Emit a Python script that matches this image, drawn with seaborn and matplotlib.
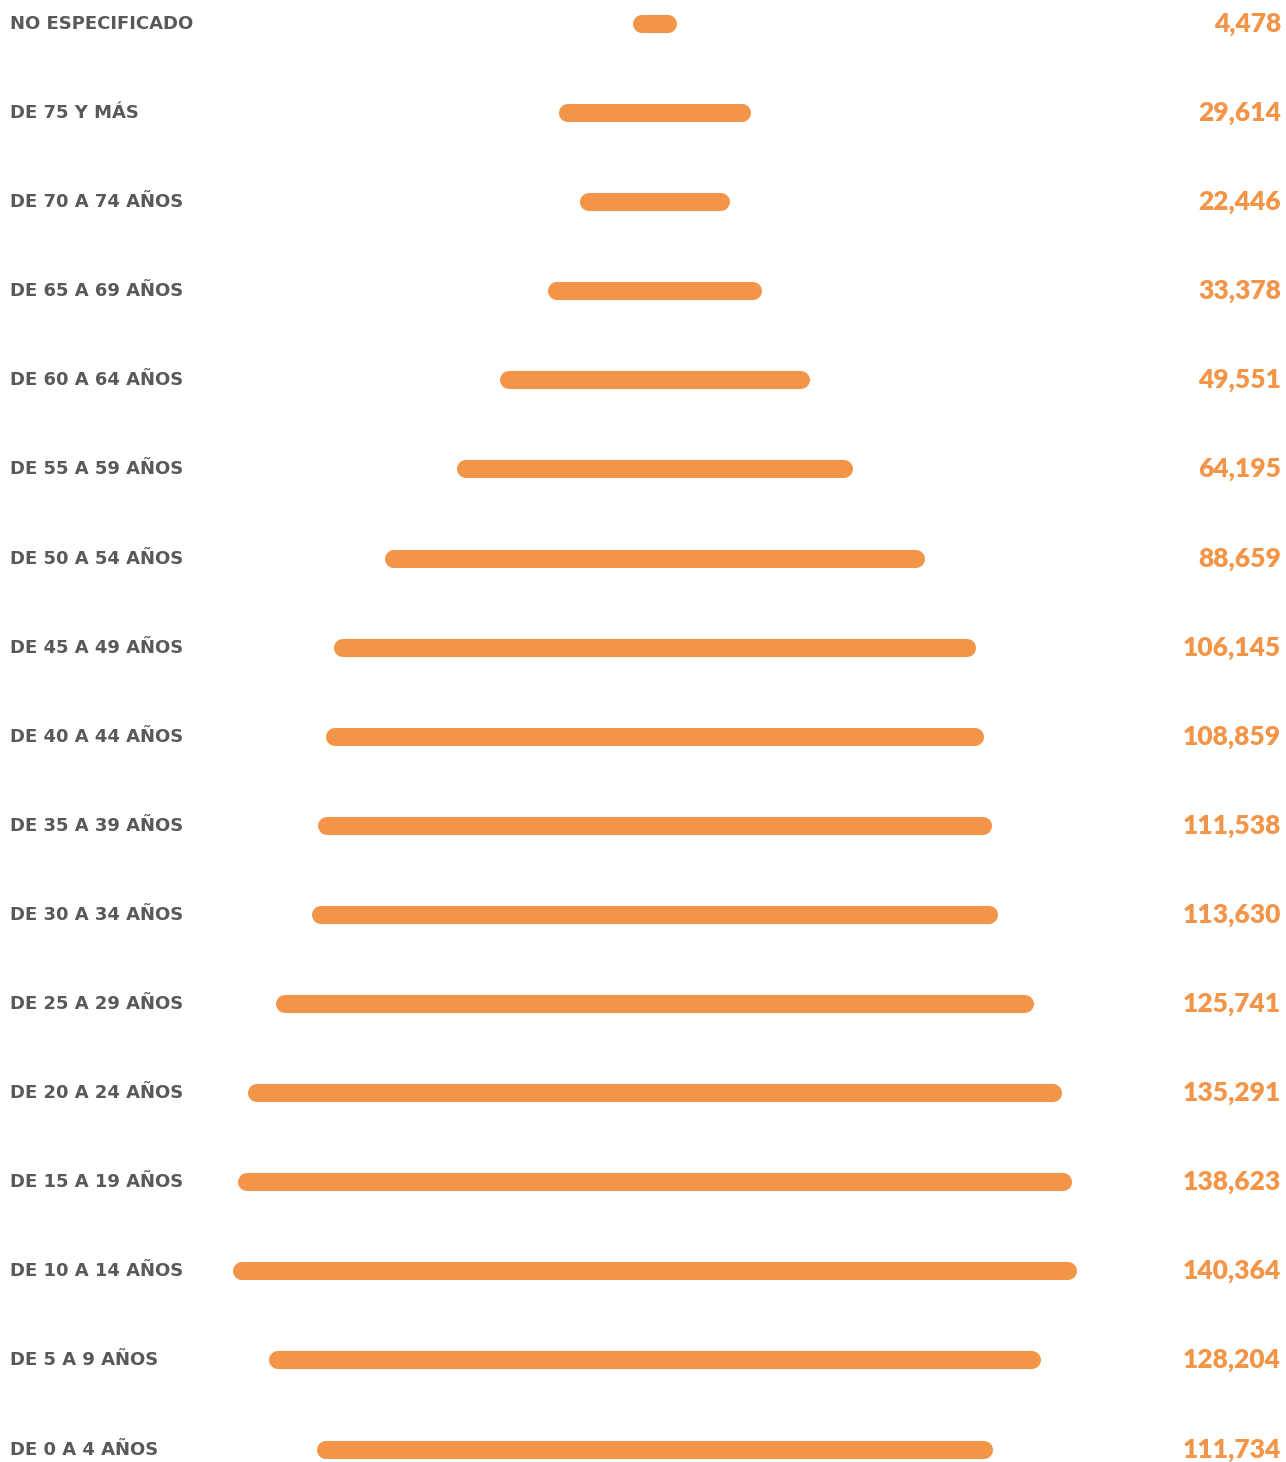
import matplotlib
matplotlib.use("Agg")
import matplotlib.pyplot as plt
import seaborn as sns
import pandas as pd

# age groups, top to bottom as in the chart
groups = ["NO ESPECIFICADO", "DE 75 Y MÁS", "DE 70 A 74 AÑOS", "DE 65 A 69 AÑOS",
          "DE 60 A 64 AÑOS", "DE 55 A 59 AÑOS", "DE 50 A 54 AÑOS", "DE 45 A 49 AÑOS",
          "DE 40 A 44 AÑOS", "DE 35 A 39 AÑOS", "DE 30 A 34 AÑOS", "DE 25 A 29 AÑOS",
          "DE 20 A 24 AÑOS", "DE 15 A 19 AÑOS", "DE 10 A 14 AÑOS", "DE 5 A 9 AÑOS",
          "DE 0 A 4 AÑOS"]
population = [4478, 29614, 22446, 33378, 49551, 64195, 88659, 106145, 108859,
              111538, 113630, 125741, 135291, 138623, 140364, 128204, 111734]

orange = "#F29548"
gray = "#58595B"

df = pd.DataFrame({"grupo": groups, "poblacion": population})
df["pos"] = range(len(df))
df["left"] = -df["poblacion"] / 2
df["right"] = df["poblacion"] / 2

sns.set_theme(style="white")
plt.rcParams["font.family"] = ["Lato", "DejaVu Sans"]

fig = plt.figure(figsize=(12.86, 14.62), dpi=100)
ax = fig.add_axes([0, 0, 1, 1])

# px per person ~0.005885, centre of bars at x=655 px
scale = 0.005885
ax.set_xlim(-655 / scale, (1286 - 655) / scale)
# first row at y=24 px, step ~89.1 px
step = 89.1
ax.set_ylim((1462 - 24) / step, -24 / step)

lc = ax.hlines(df["pos"], df["left"], df["right"], color=orange, linewidth=13)
lc.set_capstyle("round")

trans = ax.get_yaxis_transform()
for _, r in df.iterrows():
    ax.text(10 / 1286, r["pos"], r["grupo"], transform=trans, ha="left", va="center",
            color=gray, fontsize=13, fontweight="bold", family="DejaVu Sans")
    ax.text(1281 / 1286, r["pos"], f"{r['poblacion']:,}", transform=trans, ha="right",
            va="center", color=orange, fontsize=19, fontweight="heavy")

ax.axis("off")
fig.savefig("out.png", dpi=100, facecolor="white")
